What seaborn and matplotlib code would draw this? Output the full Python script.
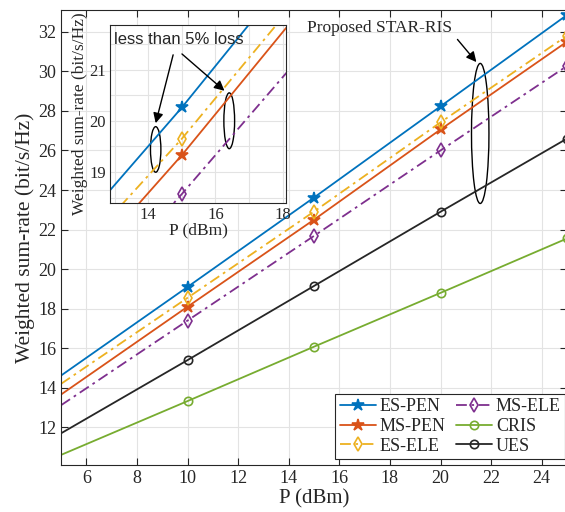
import numpy as np
import pandas as pd
import matplotlib
matplotlib.use('Agg')
import matplotlib.pyplot as plt
from matplotlib.patches import Ellipse
import seaborn as sns

# Dữ liệu
P = [5, 10, 15, 20, 25]
es_pen = [14.62, 19.10, 23.62, 28.23, 32.85]
ms_pen = [13.66, 18.10, 22.50, 27.06, 31.50]
es_ele = [14.20, 18.55, 22.91, 27.42, 31.80]
ms_ele = [13.12, 17.40, 21.68, 26.00, 30.27]
cris = [10.61, 13.33, 16.08, 18.80, 21.55]
ues = [11.70, 15.40, 19.15, 22.90, 26.60]

# Dữ liệu của hình phóng to (inset)
P_zoom = [10, 15, 20]
es_pen_zoom = [16.48, 20.26, 24.31]
ms_pen_zoom = [15.63, 19.33, 23.33]
es_ele_zoom = [16.05, 19.65, 23.60]
ms_ele_zoom = [14.87, 18.57, 22.37]

x_ticks = [6, 8, 10, 12, 14, 16, 18, 20, 22, 24]
y_ticks = [12, 14, 16, 18, 20, 22, 24, 26, 28, 30, 32]

colors = {
    'ES-PEN': '#0072BD',
    'MS-PEN': '#D95319',
    'ES-ELE': '#EDB120',
    'MS-ELE': '#7E2F8E',
    'CRIS': '#77AC30',
    'UES': '#262626',
}

sns.set_theme(style='ticks')
plt.rcParams['font.family'] = ['Liberation Serif', 'DejaVu Serif']

fig = plt.figure(figsize=(5.65, 5.12), dpi=100)
ax = fig.add_axes([61 / 565, 47 / 512, 506 / 565, 455 / 512])

dashdot = (6, 2.5, 1.5, 2.5)
series = [
    ('ES-PEN', es_pen, '-', '*', 9, True),
    ('MS-PEN', ms_pen, '-', '*', 9, True),
    ('ES-ELE', es_ele, dashdot, 'd', 7, False),
    ('MS-ELE', ms_ele, dashdot, 'd', 7, False),
    ('CRIS', cris, '-', 'o', 6, False),
    ('UES', ues, '-', 'o', 6, False),
]
style_of = {n: (l, m, z, f) for n, _, l, m, z, f in series}


def ls_kw(ls):
    # chuyển kiểu nét thành tham số cho ax.plot
    return {'linestyle': ls} if isinstance(ls, str) else {'dashes': ls}


for name, vals, ls, mk, ms, filled in series:
    c = colors[name]
    sns.lineplot(x=P, y=vals, ax=ax, color=c, lw=1.3, **ls_kw(ls),
                 marker=mk, markersize=ms, markevery=[1, 2, 3, 4],
                 markerfacecolor=c if filled else 'none', markeredgecolor=c,
                 markeredgewidth=1.2, label=name)

ax.set_xlim(5, 25)
ax.set_ylim(10.1, 33.1)
ax.set_xticks(x_ticks)
ax.set_yticks(y_ticks)
ax.grid(True, color='#e3e3e3', lw=0.8)
ax.set_axisbelow(True)
ax.tick_params(direction='in', length=5, width=0.8, top=True, right=True,
               labelsize=13, colors='#262626')
for s in ax.spines.values():
    s.set_color('#262626')
    s.set_linewidth(0.8)
ax.set_xlabel('P (dBm)', fontsize=15, labelpad=2)
ax.set_ylabel('Weighted sum-rate (bit/s/Hz)', fontsize=15.5, labelpad=2)

leg = ax.legend(ncol=2, loc='lower right', bbox_to_anchor=(0.997, 0.013),
                borderaxespad=0, fontsize=13, frameon=True, fancybox=False,
                edgecolor='#262626', framealpha=1, handlelength=2.0,
                handletextpad=0.2, columnspacing=0.6, labelspacing=0.15,
                borderpad=0.25)
leg.get_frame().set_linewidth(0.8)

# Chú thích "Proposed STAR-RIS"
ax.add_patch(Ellipse((21.57, 26.86), 0.69, 7.08, fill=False, ec='black', lw=1))
ax.annotate('', xy=(21.49, 30.36), xytext=(20.6, 31.72),
            arrowprops=dict(arrowstyle='-|>', color='black', lw=1, mutation_scale=15))
ax.text(14.74, 32.17, 'Proposed STAR-RIS', fontsize=12.5, ha='left', va='center')

# Hình phóng to
axin = fig.add_axes([110 / 565, (512 - 202.7) / 512, 176 / 565, 177.7 / 512])
for name, vals in [('ES-PEN', es_pen_zoom), ('MS-PEN', ms_pen_zoom),
                   ('ES-ELE', es_ele_zoom), ('MS-ELE', ms_ele_zoom)]:
    ls, mk, ms, filled = style_of[name]
    c = colors[name]
    sns.lineplot(x=P_zoom, y=vals, ax=axin, color=c, lw=1.3, **ls_kw(ls),
                 marker=mk, markersize=ms, markevery=[1],
                 markerfacecolor=c if filled else 'none', markeredgecolor=c,
                 markeredgewidth=1.2, legend=False)
axin.set_xlim(12.86, 18.1)
axin.set_ylim(18.4, 21.87)
axin.set_xticks([13, 14, 15, 16, 17, 18])
axin.set_xticklabels(['', '14', '', '16', '', '18'])
axin.set_yticks([18.5, 19, 19.5, 20, 20.5, 21, 21.5])
axin.set_yticklabels(['', '19', '', '20', '', '21', ''])
axin.grid(True, color='#e3e3e3', lw=0.8)
axin.set_axisbelow(True)
axin.tick_params(direction='in', length=0, labelsize=12, colors='#262626', pad=3)
for s in axin.spines.values():
    s.set_color('#262626')
    s.set_linewidth(0.8)
axin.set_xlabel('P (dBm)', fontsize=12.5, labelpad=0)
axin.set_ylabel('Weighted sum-rate (bit/s/Hz)', fontsize=12.5, labelpad=1)

axin.add_patch(Ellipse((14.22, 19.44), 0.31, 0.89, fill=False, ec='black', lw=1))
axin.add_patch(Ellipse((16.41, 20.0), 0.32, 1.09, fill=False, ec='black', lw=1))
axin.annotate('', xy=(14.2, 19.9), xytext=(14.76, 21.34),
              arrowprops=dict(arrowstyle='-|>', color='black', lw=1, mutation_scale=15))
axin.annotate('', xy=(16.33, 20.55), xytext=(14.94, 21.34),
              arrowprops=dict(arrowstyle='-|>', color='black', lw=1, mutation_scale=15))
axin.text(12.98, 21.59, 'less than 5% loss', fontsize=12, ha='left', va='center',
          family=['Liberation Sans', 'DejaVu Sans'])

fig.savefig('out.png', dpi=100)
